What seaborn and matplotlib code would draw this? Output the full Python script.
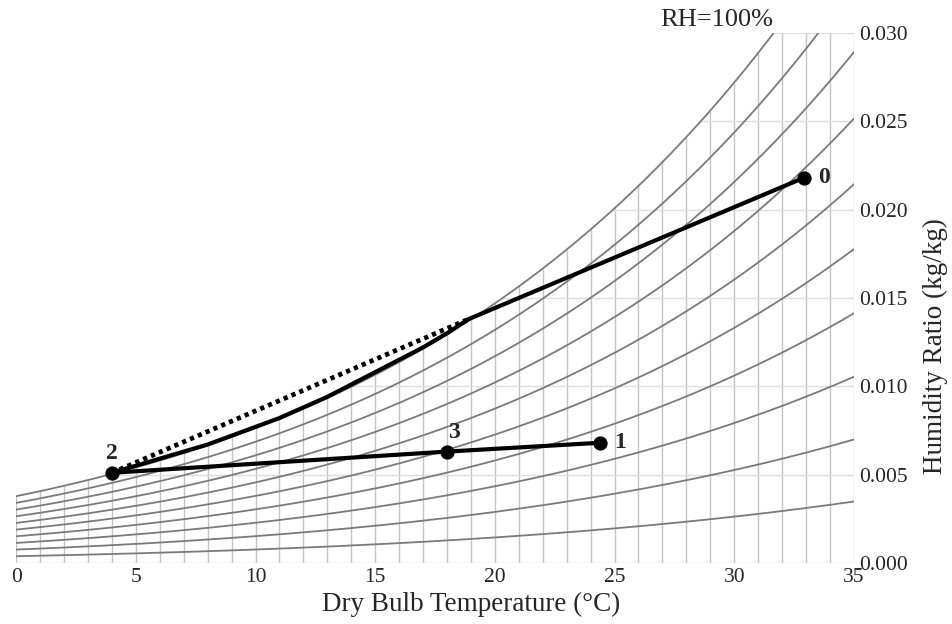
import numpy as np
import pandas as pd
import matplotlib
matplotlib.use('Agg')
import matplotlib.pyplot as plt
import seaborn as sns

# relative humidity curves on the chart (%)
rh_levels = [10, 20, 30, 40, 50, 60, 70, 80, 90, 100]

# state points
state_labels = ['0', '1', '2', '3']
state_temp = [32.9, 24.4, 4.0, 18.0]
state_w = [0.0218, 0.0068, 0.0051, 0.0063]

# solid path 0 -> saturation, then down the RH=100% curve to 2
path_temp = [32.9, 18.9, 18.0, 17.0, 16.0, 15.0, 14.0, 13.0, 12.0, 11.0, 10.0, 9.0, 8.0, 7.0, 6.0, 5.0, 4.0]
path_w = [0.0218, 0.0138, 0.0130, 0.0122, 0.0115, 0.0108, 0.0101, 0.0094, 0.0088, 0.0082,
          0.0077, 0.0072, 0.0067, 0.0063, 0.0059, 0.0055, 0.0051]

# mixing line 2 -> 3 -> 1
mix_temp = [4.0, 18.0, 24.4]
mix_w = [0.0051, 0.0063, 0.0068]

# dotted line 2 -> saturation point
dot_temp = [4.0, 18.9]
dot_w = [0.0051, 0.0138]

x_ticks = [0, 5, 10, 15, 20, 25, 30, 35]
y_ticks = [0.000, 0.005, 0.010, 0.015, 0.020, 0.025, 0.030]

P_ATM = 101.325  # kPa


def sat_pressure(t):
    # Buck equation, kPa
    return 0.61121 * np.exp((18.678 - t / 234.5) * (t / (257.14 + t)))


def humidity_ratio(t, rh):
    pv = rh / 100.0 * sat_pressure(t)
    return 0.622 * pv / (P_ATM - pv)


sns.set_style('white')
plt.rcParams['font.family'] = ['Liberation Serif', 'DejaVu Serif']

fig = plt.figure(figsize=(9.53, 6.24), dpi=100)
ax = fig.add_axes([0.017, 0.098, 0.879, 0.849])

# build curve table
t_grid = np.linspace(0, 35, 281)
rows = []
for rh in rh_levels:
    for t in t_grid:
        rows.append({'T': t, 'W': humidity_ratio(t, rh), 'RH': rh})
curves = pd.DataFrame(rows)

# grid clipped to the region under saturation
t_int = np.arange(0, 36)
w_sat_int = np.minimum(humidity_ratio(t_int, 100), 0.030)
ax.vlines(t_int, 0, w_sat_int, color='#c4c4c4', lw=1.0, zorder=1)
w_sat_grid = humidity_ratio(t_grid, 100)
for w in y_ticks:
    t_dew = np.interp(w, w_sat_grid, t_grid)
    ax.hlines(w, t_dew, 35, color='#dedede', lw=1.0, zorder=1)

sns.lineplot(data=curves, x='T', y='W', hue='RH', units='RH', estimator=None,
             palette={rh: '#7a7a7a' for rh in rh_levels}, lw=1.3,
             legend=False, ax=ax, zorder=2)

# process lines
ax.plot(dot_temp, dot_w, color='black', lw=3.4, ls=(0, (0.9, 0.9)), zorder=4)
ax.plot(path_temp, path_w, color='black', lw=3.0, zorder=5,
        solid_capstyle='round', solid_joinstyle='round')
ax.plot(mix_temp, mix_w, color='black', lw=3.0, zorder=5)
sns.scatterplot(x=state_temp, y=state_w, color='black', s=90,
                edgecolor='black', ax=ax, zorder=6)

offsets = {'0': (0.6, 0.0, 'left', 'center'), '1': (0.6, 0.0, 'left', 'center'),
           '2': (0.0, 0.0005, 'center', 'bottom'), '3': (0.3, 0.0005, 'center', 'bottom')}
for lab, t, w in zip(state_labels, state_temp, state_w):
    dx, dy, ha, va = offsets[lab]
    ax.text(t + dx, w + dy, lab, fontsize=17, fontweight='bold', ha=ha, va=va, zorder=7)

ax.text(31.65, 0.0301, 'RH=100%', fontsize=19, ha='right', va='bottom')

ax.set_xlim(0, 35)
ax.set_ylim(0, 0.030)
ax.set_xticks(x_ticks)
ax.set_xticklabels([str(v) for v in x_ticks], fontsize=15.5)
ax.set_yticks(y_ticks)
ax.set_yticklabels(['%.3f' % v for v in y_ticks], fontsize=15.5)
ax.yaxis.tick_right()
ax.yaxis.set_label_position('right')
ax.tick_params(length=0, pad=4)
ax.set_xlabel('Dry Bulb Temperature (°C)', fontsize=19.5)
ax.xaxis.set_label_coords(0.543, -0.055, transform=ax.transAxes)
ax.xaxis.label.set_va('top')
ax.set_ylabel('Humidity Ratio (kg/kg)', fontsize=19.5)
ax.yaxis.set_label_coords(1.097, 0.41, transform=ax.transAxes)
ax.yaxis.label.set_va('center')
ax.yaxis.label.set_ha('center')
sns.despine(ax=ax, left=True, bottom=True, right=True, top=True)

fig.savefig('out.png', dpi=100)
